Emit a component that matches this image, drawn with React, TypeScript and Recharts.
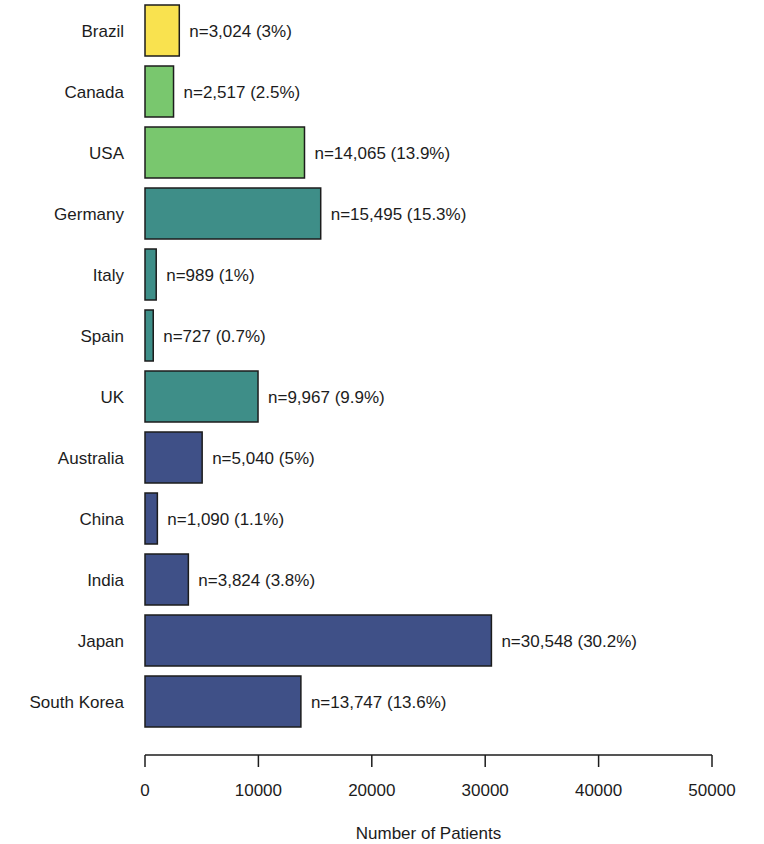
import { BarChart, Bar, XAxis, YAxis, Cell, LabelList, Label } from 'recharts';

const countries = ['Brazil', 'Canada', 'USA', 'Germany', 'Italy', 'Spain', 'UK', 'Australia', 'China', 'India', 'Japan', 'South Korea'];
const patients = [3024, 2517, 14065, 15495, 989, 727, 9967, 5040, 1090, 3824, 30548, 13747];
const shares = [3, 2.5, 13.9, 15.3, 1, 0.7, 9.9, 5, 1.1, 3.8, 30.2, 13.6];
const regions = ['latam', 'na', 'na', 'eu', 'eu', 'eu', 'eu', 'apac', 'apac', 'apac', 'apac', 'apac'];
const xTicks = [0, 10000, 20000, 30000, 40000, 50000];

const regionColors: Record<string, string> = {
  latam: '#F9E24F',
  na: '#79C76E',
  eu: '#3E8E88',
  apac: '#3F5087',
};

const data = countries.map((name, i) => ({
  name,
  value: patients[i],
  label: `n=${patients[i].toLocaleString('en-US')} (${shares[i]}%)`,
  region: regions[i],
}));

const FONT = '"Liberation Sans", Arial, sans-serif';
const INK = '#1c1c1c';

export default function App() {
  return (
    <div style={{ position: 'absolute', left: 0, top: 0, background: '#fff' }}>
      <BarChart
        width={764}
        height={844}
        data={data}
        layout="vertical"
        margin={{ top: 0, right: 52, bottom: 0, left: 0 }}
        style={{ fontFamily: FONT }}
      >
        <XAxis
          type="number"
          domain={[0, 50000]}
          ticks={xTicks}
          height={89}
          tickSize={12}
          tickMargin={17}
          axisLine={{ stroke: INK, strokeWidth: 1.5 }}
          tickLine={{ stroke: INK, strokeWidth: 1.5 }}
          tick={{ fill: INK, fontSize: 17, fontFamily: FONT }}
        >
          <Label
            value="Number of Patients"
            position="insideBottom"
            offset={5}
            style={{ fill: INK, fontSize: 17, fontFamily: FONT }}
          />
        </XAxis>
        <YAxis
          type="category"
          dataKey="name"
          width={145}
          padding={{ top: 0, bottom: 23 }}
          axisLine={false}
          tickLine={false}
          tickSize={0}
          tickMargin={21}
          tick={{ fill: INK, fontSize: 17, fontFamily: FONT }}
          interval={0}
        />
        <Bar dataKey="value" barSize={51} stroke={INK} strokeWidth={1.5} isAnimationActive={false}>
          {data.map((d) => (
            <Cell key={d.name} fill={regionColors[d.region]} />
          ))}
          <LabelList
            dataKey="label"
            position="right"
            offset={10}
            style={{ fill: INK, fontSize: 17, fontFamily: FONT }}
          />
        </Bar>
      </BarChart>
    </div>
  );
}
